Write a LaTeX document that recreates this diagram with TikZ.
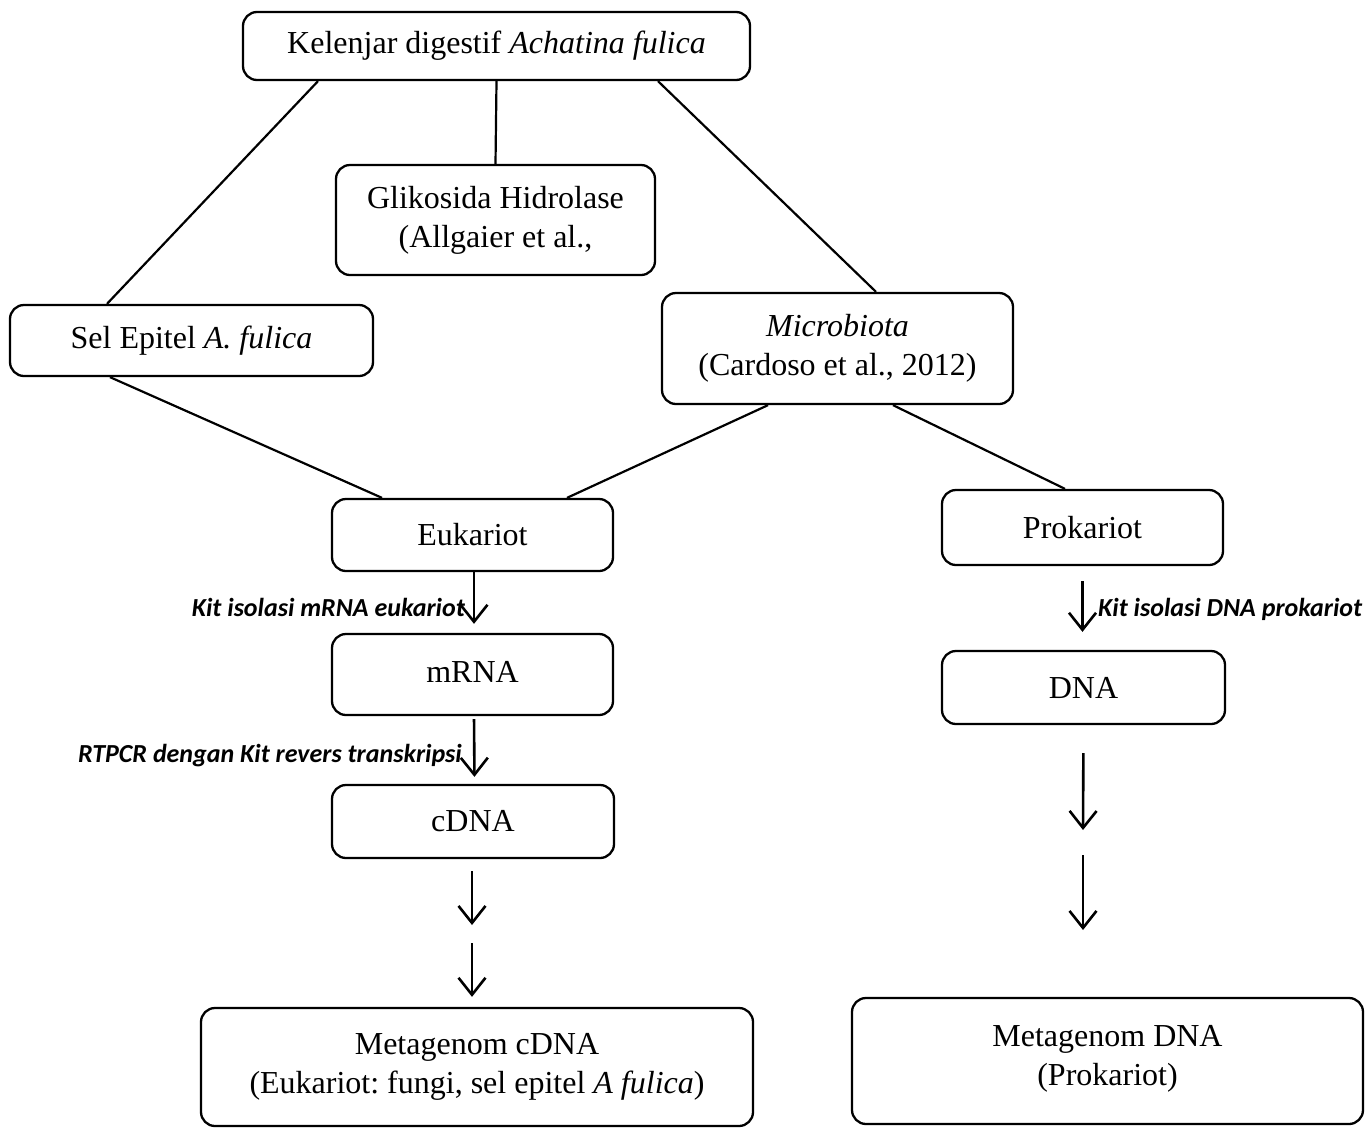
\documentclass[tikz,border=0pt]{standalone}
\usepackage{fontspec}
\setmainfont{Liberation Serif}
\newfontfamily\labfont{Carlito}
\usetikzlibrary{arrows.meta,calc}
\frenchspacing
\begin{document}
\begin{tikzpicture}[x=1pt,y=-1pt,
  box/.style={draw,line width=2.3pt,rounded corners=14pt,inner sep=0pt,align=center,
    font=\fontsize{32}{39}\selectfont\frenchspacing},
  conn/.style={line width=2.2pt},
  arr/.style={line width=2.6pt,-{Straight Barb[length=17pt,width=27pt,line width=2.6pt]}},
  lab/.style={font=\labfont\bfseries\itshape\fontsize{26}{30}\selectfont,inner sep=0pt}]
\useasboundingbox (0,0) rectangle (1365,1128);
\node[box,minimum width=507pt,minimum height=68pt] (top) at (496.5,46) {Kelenjar digestif \textit{Achatina fulica}};
\node[box,minimum width=319pt,minimum height=110pt] (glik) at (495.5,220) {Glikosida Hidrolase\\(Allgaier et al.,};
\node[box,minimum width=363pt,minimum height=71pt] (sel) at (191.5,340.5) {Sel Epitel \textit{A. fulica}};
\node[box,minimum width=351pt,minimum height=111pt] (micro) at (837.5,348.5) {\textit{Microbiota}\\(Cardoso et al., 2012)};
\node[box,minimum width=281pt,minimum height=72pt] (euk) at (472.5,535) {Eukariot};
\node[box,minimum width=281pt,minimum height=75pt] (prok) at (1082.5,527.5) {Prokariot};
\node[box,minimum width=281pt,minimum height=81pt] (mrna) at (472.5,674.5) {\raisebox{6pt}{mRNA}};
\node[box,minimum width=283pt,minimum height=73pt] (dna) at (1083.5,687.5) {DNA};
\node[box,minimum width=282pt,minimum height=73pt] (cdna) at (473,821.5) {cDNA};
\node[box,minimum width=552pt,minimum height=118pt] (metac) at (477,1067) {Metagenom cDNA\\(Eukariot: fungi, sel epitel \textit{A fulica})};
\node[box,minimum width=511pt,minimum height=126pt] (metad) at (1107.5,1061) {Metagenom DNA\\(Prokariot)\\[-27pt]};

\draw[conn] ([xshift=-178.5pt]top.south) -- ([xshift=-84.5pt]sel.north);
\draw[conn] (top.south) -- (glik.north);
\draw[conn] ([xshift=161.5pt]top.south) -- ([xshift=38.5pt]micro.north);
\draw[conn] ([xshift=-81.5pt]sel.south) -- ([xshift=-90.5pt]euk.north);
\draw[conn] ([xshift=-69.5pt]micro.south) -- ([xshift=94.5pt]euk.north);
\draw[conn] ([xshift=55.5pt]micro.south) -- ([xshift=-17.5pt]prok.north);

\draw[arr,shorten >=9pt] ([xshift=1.5pt]euk.south) -- ([xshift=1.5pt]mrna.north);
\draw[arr,shorten <=3pt,shorten >=7pt] ([xshift=1.5pt]mrna.south) -- ([xshift=1.5pt]cdna.north);
\coordinate (c1) at (472,925);
\coordinate (c2) at (472,943);
\draw[arr,shorten <=12pt] ([xshift=-1pt]cdna.south) -- (c1);
\draw[arr,shorten >=10pt] (c2) -- (metac.north -| c2);
\draw[arr,shorten <=15pt,shorten >=18pt] (prok.south) -- (prok.south |- dna.north);
\coordinate (d1) at (1083,830);
\coordinate (d2) at (1083,855);
\coordinate (d3) at (1083,930);
\draw[arr,shorten <=28pt] (dna.south) -- (d1);
\draw[arr] (d2) -- (d3);

\node[lab,anchor=east] (l1) at (465,607) {Kit isolasi mRNA eukariot};
\node[lab,anchor=east] (l2) at (462,756) {RTPCR dengan Kit revers transkripsi};
\node[lab,anchor=west] (l3) at (1098,609) {Kit isolasi DNA prokariot};
\end{tikzpicture}
\end{document}
